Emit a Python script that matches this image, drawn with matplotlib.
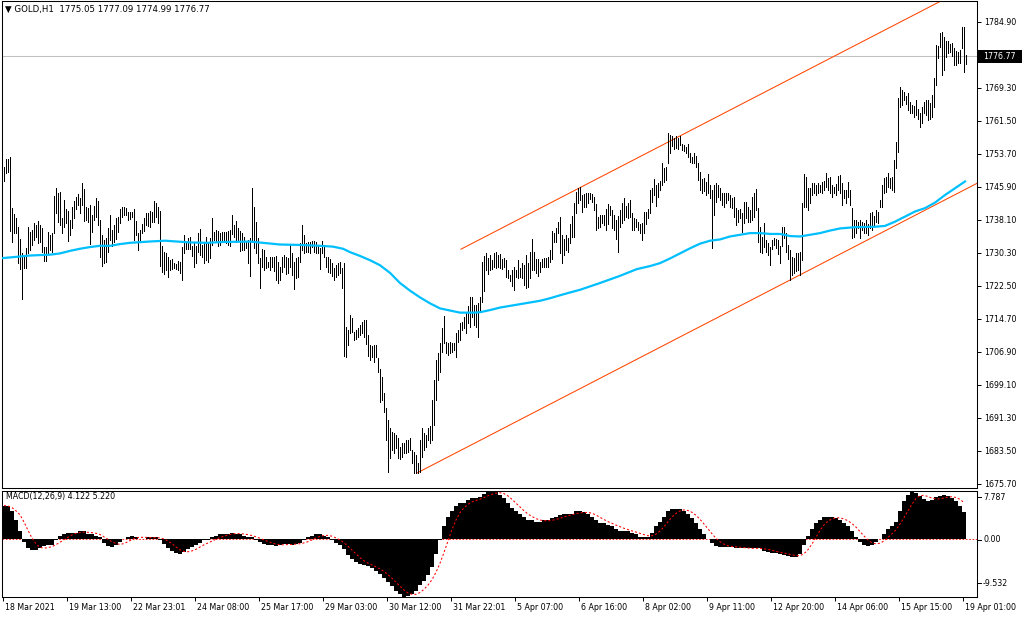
import numpy as np
import matplotlib
matplotlib.use("Agg")
import matplotlib.pyplot as plt
from matplotlib.patches import Rectangle
from matplotlib.lines import Line2D

plt.rcParams['font.family'] = ['DejaVu Sans']

# ---------------- data ----------------
symbol = "GOLD,H1"
last_ohlc = [1775.05, 1777.09, 1774.99, 1776.77]
last_price = 1776.77
macd_last = 4.122
signal_last = 5.220

high = [
    # 18 Mar - 19 Mar
    1750.6, 1752.5, 1752.5, 1753.0, 1740.9, 1739.4, 1738.6, 1736.5, 1733.6, 1730.3,
    1729.4, 1731.5, 1736.5, 1735.3, 1735.7, 1737.4, 1736.9, 1737.9, 1736.9, 1736.2,
    1731.7, 1731.7, 1735.3, 1734.6, 1735.0, 1743.8, 1745.7, 1744.5, 1744.7, 1738.6,
    1742.8, 1740.7, 1740.2, 1738.1, 1741.2, 1742.6, 1743.5, 1744.2, 1743.3, 1746.8,
    1745.4, 1741.2, 1740.9, 1741.6, 1739.3, 1741.4, 1743.3, 1742.6, 1738.1, 1734.6,
    1733.4, 1733.9, 1736.2, 1739.3, 1735.7, 1736.9, 1738.6, 1738.8, 1740.7, 1741.2,
    1741.2, 1740.9, 1740.0, 1740.0, 1740.0, 1740.7, 1737.9, 1735.0, 1735.7, 1737.2,
    1738.6, 1739.8, 1739.8, 1740.2,
    # 23 Mar - 26 Mar
    1740.0, 1742.6, 1742.1, 1741.2, 1740.2, 1732.0, 1730.5, 1730.3, 1729.4, 1728.6,
    1728.9, 1727.9, 1727.7, 1728.4, 1728.2, 1731.7, 1734.6, 1732.9, 1733.9, 1734.1,
    1732.0, 1732.6, 1732.0, 1735.0, 1736.0, 1732.2, 1732.9, 1734.1, 1732.9, 1733.9,
    1738.6, 1735.3, 1735.7, 1735.5, 1735.0, 1735.3, 1735.3, 1735.3, 1735.5, 1735.7,
    1739.3, 1736.9, 1737.9, 1736.2, 1735.5, 1735.0, 1734.1, 1732.9, 1733.4, 1733.9,
    1745.7, 1741.2, 1737.6, 1733.9, 1729.1, 1731.2, 1731.0, 1729.4, 1728.2, 1729.4,
    1729.4, 1729.4, 1729.6, 1728.2, 1727.0, 1729.4, 1729.8, 1729.4, 1729.1, 1732.2,
    # 26 Mar - 31 Mar
    1730.3, 1728.2, 1729.1, 1729.4, 1732.6, 1736.9, 1734.6, 1732.6, 1732.9, 1732.9,
    1733.1, 1733.1, 1732.9, 1732.2, 1731.5, 1733.1, 1732.2, 1729.4, 1729.4, 1728.9,
    1727.9, 1726.8, 1727.5, 1727.9, 1728.2, 1726.8, 1727.9, 1712.8, 1712.1, 1715.6,
    1714.9, 1711.6, 1712.1, 1712.6, 1713.3, 1714.0, 1714.5, 1714.5, 1710.9, 1708.6,
    1708.3, 1708.6, 1708.6, 1705.5, 1702.9, 1701.0, 1697.2, 1693.7, 1690.8, 1688.9,
    1688.0, 1687.7, 1687.3, 1686.6, 1684.5, 1685.4, 1685.4, 1686.1, 1686.1, 1686.6,
    1683.7, 1683.3, 1682.5, 1680.7, 1686.1, 1688.9, 1687.7, 1687.3, 1688.9, 1689.4,
    # 31 Mar - 6 Apr
    1695.5, 1700.3, 1705.0, 1706.7, 1709.0, 1712.6, 1715.4, 1709.3, 1709.0, 1709.3,
    1709.0, 1709.0, 1711.4, 1712.1, 1713.8, 1714.0, 1715.2, 1716.1, 1717.8, 1719.9,
    1719.9, 1718.0, 1718.0, 1718.5, 1719.9, 1728.2, 1729.6, 1730.3, 1729.1, 1729.8,
    1728.6, 1730.3, 1730.5, 1729.8, 1730.1, 1728.9, 1729.1, 1728.6, 1726.3, 1725.1,
    1726.3, 1727.0, 1726.3, 1728.6, 1726.8, 1727.9, 1727.5, 1729.8, 1727.9, 1730.5,
    1733.6, 1730.5, 1728.9, 1728.9, 1728.2, 1728.9, 1729.1, 1729.1, 1729.4, 1731.0,
    1735.5, 1735.0, 1736.2, 1737.6, 1738.8, 1734.6, 1733.6, 1734.6, 1733.9, 1737.2,
    # 6 Apr - 9 Apr
    1739.0, 1742.1, 1744.7, 1745.7, 1745.9, 1744.0, 1744.2, 1744.5, 1744.5, 1744.5,
    1744.2, 1743.5, 1741.9, 1738.8, 1739.3, 1739.3, 1739.3, 1740.7, 1741.9, 1741.4,
    1740.5, 1739.3, 1738.1, 1739.0, 1740.5, 1742.1, 1743.3, 1741.4, 1742.1, 1742.8,
    1739.8, 1738.6, 1738.3, 1737.6, 1737.2, 1737.4, 1740.0, 1740.0, 1740.7, 1745.2,
    1745.7, 1747.8, 1746.4, 1746.8, 1747.3, 1751.6, 1750.4, 1750.6, 1758.7, 1758.2,
    1758.0, 1757.5, 1758.0, 1757.5, 1758.0, 1756.1, 1755.8, 1755.4, 1756.1, 1754.0,
    1753.0, 1754.0, 1753.2, 1751.6, 1749.4, 1747.8, 1748.0, 1747.1, 1749.0, 1746.4,
    # 9 Apr - 14 Apr
    1745.2, 1746.4, 1746.8, 1746.4, 1745.7, 1744.5, 1744.5, 1744.5, 1744.5, 1744.0,
    1743.3, 1743.5, 1740.9, 1740.5, 1740.7, 1739.8, 1742.4, 1742.4, 1741.2, 1740.5,
    1743.5, 1744.5, 1745.4, 1740.9, 1736.5, 1734.1, 1737.4, 1733.4, 1732.6, 1731.7,
    1733.4, 1733.9, 1733.6, 1733.4, 1732.0, 1736.5, 1736.5, 1735.0, 1732.2, 1731.0,
    1729.4, 1729.1, 1730.3, 1730.3, 1730.5, 1742.1, 1749.0, 1748.3, 1745.7, 1745.7,
    1746.8, 1746.8, 1746.4, 1746.8, 1746.4, 1747.1, 1747.3, 1749.2, 1748.0, 1748.3,
    1746.4, 1745.9, 1746.6, 1748.5, 1748.7,
    # 14 Apr - 19 Apr
    1746.8, 1745.2, 1745.2, 1747.1, 1745.2, 1740.9, 1738.1, 1738.1, 1737.6, 1738.1,
    1737.6, 1737.4, 1738.1, 1737.2, 1739.8, 1740.0, 1739.0, 1740.5, 1740.0, 1742.8,
    1746.4, 1748.0, 1748.3, 1749.2, 1748.0, 1748.3, 1752.3, 1756.5, 1767.0, 1769.5,
    1768.8, 1768.4, 1767.4, 1768.1, 1766.0, 1765.3, 1765.0, 1766.5, 1764.3, 1763.4,
    1764.8, 1766.0, 1766.5, 1766.5, 1765.8, 1767.6, 1771.7, 1779.5, 1779.2, 1782.3,
    1782.5, 1781.4, 1780.4, 1780.4, 1779.7, 1780.0, 1778.8, 1778.0, 1777.8, 1778.3,
    1783.7, 1783.7, 1777.09,
]

low = [
    1747.3, 1749.2, 1749.4, 1735.5, 1732.9, 1735.0, 1735.0, 1727.9, 1726.5, 1719.4,
    1726.8, 1726.8, 1730.3, 1731.0, 1732.2, 1733.4, 1734.1, 1732.6, 1732.9, 1730.5,
    1728.4, 1728.4, 1730.3, 1731.0, 1730.5, 1735.0, 1739.8, 1737.6, 1736.9, 1735.0,
    1736.5, 1737.4, 1733.1, 1734.6, 1736.2, 1738.6, 1740.7, 1741.6, 1739.8, 1741.6,
    1737.9, 1738.1, 1737.6, 1732.4, 1735.3, 1738.1, 1738.8, 1736.9, 1729.4, 1727.2,
    1727.9, 1728.2, 1730.5, 1733.4, 1732.0, 1732.9, 1733.6, 1735.3, 1737.4, 1738.8,
    1739.3, 1739.3, 1738.1, 1738.3, 1738.8, 1733.4, 1734.6, 1731.0, 1733.4, 1735.0,
    1735.5, 1736.9, 1736.7, 1736.5,
    1737.6, 1737.6, 1738.8, 1737.4, 1727.2, 1725.8, 1725.3, 1726.3, 1724.6, 1726.3,
    1726.5, 1726.8, 1726.5, 1726.3, 1725.6, 1723.9, 1730.3, 1731.2, 1731.2, 1731.2,
    1729.6, 1727.0, 1727.9, 1730.5, 1729.8, 1729.4, 1727.9, 1728.6, 1728.2, 1729.1,
    1732.2, 1733.4, 1732.9, 1732.0, 1732.2, 1733.4, 1733.1, 1732.6, 1732.2, 1732.0,
    1734.8, 1734.1, 1732.9, 1733.4, 1730.8, 1731.0, 1731.0, 1731.5, 1727.9, 1724.9,
    1732.9, 1731.5, 1730.3, 1727.9, 1722.0, 1727.0, 1726.3, 1726.8, 1727.0, 1726.3,
    1727.0, 1726.0, 1723.9, 1723.2, 1723.9, 1725.8, 1727.0, 1725.3, 1725.6, 1727.0,
    1725.1, 1721.8, 1724.4, 1724.6, 1728.2, 1731.0, 1730.3, 1730.5, 1730.5, 1730.3,
    1731.7, 1730.5, 1730.3, 1730.3, 1726.5, 1730.3, 1729.4, 1727.0, 1725.8, 1725.6,
    1724.9, 1723.9, 1724.6, 1725.1, 1725.6, 1722.0, 1705.9, 1705.7, 1708.6, 1711.4,
    1711.6, 1709.7, 1710.0, 1710.4, 1710.9, 1711.4, 1710.4, 1708.8, 1705.9, 1705.0,
    1705.7, 1704.5, 1705.7, 1702.2, 1695.1, 1695.5, 1692.7, 1686.1, 1678.5, 1681.8,
    1683.7, 1683.0, 1684.2, 1681.8, 1681.6, 1682.1, 1683.0, 1683.0, 1683.3, 1683.7,
    1680.7, 1678.3, 1678.3, 1678.3, 1678.5, 1682.1, 1683.7, 1684.5, 1686.1, 1685.4,
    1686.1, 1689.6, 1695.5, 1700.3, 1702.2, 1706.9, 1709.0, 1706.7, 1706.2, 1706.7,
    1706.9, 1707.4, 1705.7, 1709.3, 1709.7, 1712.1, 1712.6, 1711.4, 1713.8, 1712.8,
    1715.2, 1713.3, 1712.8, 1710.4, 1716.4, 1718.7, 1721.3, 1726.3, 1725.3, 1726.3,
    1726.5, 1727.0, 1726.8, 1727.0, 1726.8, 1726.5, 1727.0, 1724.6, 1724.4, 1723.7,
    1722.5, 1721.6, 1724.6, 1724.4, 1724.6, 1724.4, 1722.7, 1722.0, 1722.3, 1724.4,
    1726.3, 1726.3, 1725.6, 1724.9, 1725.8, 1727.0, 1727.0, 1727.0, 1727.0, 1728.2,
    1728.9, 1732.9, 1732.9, 1735.0, 1730.3, 1727.9, 1729.8, 1731.0, 1730.5, 1732.6,
    1734.1, 1734.1, 1739.8, 1742.1, 1742.8, 1740.0, 1741.2, 1741.2, 1742.1, 1743.1,
    1742.4, 1740.5, 1735.7, 1736.2, 1736.5, 1737.4, 1736.9, 1735.7, 1737.2, 1739.3,
    1736.2, 1735.7, 1733.6, 1730.5, 1736.5, 1737.4, 1738.1, 1738.8, 1738.6, 1738.8,
    1735.7, 1735.7, 1736.5, 1735.7, 1735.0, 1733.4, 1735.0, 1737.2, 1738.6, 1739.8,
    1742.4, 1744.0, 1741.4, 1743.5, 1745.2, 1746.4, 1747.1, 1747.6, 1751.6, 1754.0,
    1755.6, 1754.9, 1755.1, 1754.9, 1755.8, 1754.7, 1754.4, 1754.0, 1753.0, 1751.8,
    1751.6, 1751.6, 1750.6, 1747.6, 1745.2, 1744.5, 1744.9, 1744.0, 1744.5, 1743.3,
    1731.5, 1739.3, 1742.4, 1743.5, 1742.8, 1741.6, 1741.2, 1742.1, 1742.8, 1741.2,
    1740.9, 1738.8, 1736.9, 1737.6, 1738.6, 1735.3, 1737.4, 1738.6, 1737.6, 1737.6,
    1738.1, 1738.8, 1740.5, 1732.9, 1730.5, 1730.3, 1731.7, 1730.5, 1729.8, 1727.5,
    1731.2, 1732.2, 1731.5, 1730.1, 1727.9, 1732.0, 1733.9, 1730.5, 1728.9, 1723.9,
    1725.1, 1725.6, 1726.0, 1726.3, 1725.1, 1728.6, 1741.2, 1741.2, 1740.5, 1742.1,
    1744.0, 1744.5, 1744.0, 1744.5, 1744.7, 1744.5, 1745.2, 1745.9, 1745.2, 1744.5,
    1743.5, 1744.5, 1744.0, 1745.2, 1744.5,
    1741.6, 1743.3, 1742.1, 1743.5, 1741.6, 1733.9, 1734.1, 1735.0, 1736.2, 1733.9,
    1735.7, 1735.0, 1735.0, 1734.6, 1736.2, 1735.7, 1736.7, 1737.6, 1737.4, 1741.2,
    1741.2, 1744.5, 1744.7, 1745.9, 1745.7, 1745.2, 1744.7, 1750.4, 1754.2, 1764.8,
    1765.3, 1766.5, 1765.5, 1764.1, 1763.4, 1763.4, 1762.5, 1762.9, 1762.0, 1760.1,
    1761.0, 1763.4, 1762.9, 1761.7, 1762.0, 1762.5, 1764.8, 1770.0, 1776.4, 1779.0,
    1772.4, 1773.6, 1776.6, 1777.6, 1777.8, 1776.9, 1774.7, 1774.7, 1775.2, 1775.2,
    1778.8, 1773.1, 1774.99,
]

# moving average (blue line), read at these bar positions
ma_bar = [0, 7, 13.5, 23.5, 28.5, 33.5, 38.5, 43.5, 48.5, 53.5, 58.5, 63.5, 73, 81,
          93.5, 102, 110, 123.5, 130, 138.5, 148.5, 158.5, 165, 170, 173.5, 178.5,
          183.5, 188.5, 193.5, 198.5, 203.5, 208.5, 213.5, 218.5, 223.5, 228.5, 236,
          238.5, 243.5, 248.5, 253.5, 258.5, 263.5, 268.5, 273.5, 278.5, 283, 288.5,
          298.5, 308.5, 317, 323.5, 328.5, 333.5, 338.5, 343.5, 348.5, 353.5, 358.5,
          363.5, 368.5, 373.5, 378.5, 383.5, 388.5, 393.5, 398.5, 403.5, 408.5, 413.5,
          418.5, 426, 436, 441, 446, 451, 456, 461, 466, 471, 476, 481]
ma_value = [1729.1, 1729.4, 1729.7, 1729.9, 1730.2, 1730.8, 1731.3, 1731.7, 1732.0,
            1732.0, 1732.4, 1732.7, 1733.0, 1733.2, 1732.8, 1732.7, 1732.9, 1733.0,
            1732.7, 1732.3, 1732.2, 1732.0, 1731.8, 1731.3, 1730.5, 1729.6, 1728.6,
            1727.4, 1725.6, 1723.2, 1721.4, 1719.8, 1718.4, 1717.2, 1716.7, 1716.2,
            1716.2, 1716.3, 1716.8, 1717.4, 1717.8, 1718.2, 1718.6, 1719.0, 1719.6,
            1720.3, 1720.9, 1721.6, 1723.2, 1724.9, 1726.5, 1727.2, 1727.9, 1729.0,
            1730.2, 1731.4, 1732.5, 1733.2, 1733.5, 1734.2, 1734.6, 1735.0, 1735.0,
            1734.8, 1734.8, 1734.3, 1734.2, 1734.6, 1735.0, 1735.6, 1736.1, 1736.4,
            1736.5, 1736.7, 1737.7, 1738.9, 1740.1, 1740.9, 1742.2, 1744.0, 1745.6,
            1747.2]

# price channel (two anchor points each)
upper_channel_bar = [229, 490]
upper_channel_price = [1731.2, 1795.0]
lower_channel_bar = [207, 490]
lower_channel_price = [1678.3, 1747.5]

# MACD(12,26,9) main values, read every second bar
macd_step = 2
macd = [
    5.4, 5.3, 4.5, 3.0, 1.3, -0.5, -1.5, -1.8, -1.8, -1.5,
    -1.2, -1.0, -1.0, -0.2, 0.5, 0.8, 1.0, 1.0, 1.0, 1.2,
    1.2, 0.8, 0.7, 0.5, 0.2, -0.7, -1.2, -1.3, -1.0, -0.5,
    0.0, 0.3, 0.5, 0.3, 0.0, 0.0, 0.2, 0.3, 0.3, -0.2,
    -0.8, -1.5, -2.0, -2.3, -2.5, -2.2, -1.7, -1.3, -1.0, -0.7,
    -0.3, -0.2, 0.2, 0.5, 0.7, 0.8, 0.8, 1.0, 0.8, 0.7,
    0.5, 0.3, 0.2, -0.2, -0.5, -0.8, -1.0, -1.0, -1.2, -1.0,
    -0.8, -0.8, -1.0, -0.8, -0.7, -0.2, 0.2, 0.5, 0.7, 0.7,
    0.5, 0.3, -0.2, -0.7, -1.0, -1.7, -2.6, -3.3, -3.8, -4.1,
    -4.3, -4.5, -4.8, -5.3, -5.8, -6.4, -7.1, -7.8, -8.5, -9.1,
    -9.5, -9.4, -9.0, -8.5, -7.6, -6.9, -5.9, -4.6, -2.5, -0.2,
    2.0, 3.5, 4.6, 5.4, 5.8, 5.9, 6.3, 6.6, 6.6, 6.8,
    7.3, 7.7, 7.8, 7.6, 7.1, 6.6, 5.8, 5.0, 4.5, 4.0,
    3.5, 3.1, 3.0, 2.8, 2.8, 3.0, 3.0, 3.3, 3.6, 3.8,
    4.0, 4.0, 4.1, 4.5, 4.5, 4.3, 4.0, 3.5, 3.0, 2.6,
    2.5, 2.3, 2.1, 1.6, 1.3, 1.2, 1.2, 1.0, 0.7, 0.2,
    0.2, 0.3, 1.0, 2.0, 2.8, 3.6, 4.5, 4.8, 4.9, 4.8,
    4.5, 4.0, 3.3, 2.5, 1.5, 0.7, 0.0, -0.7, -1.2, -1.3,
    -1.3, -1.3, -1.3, -1.5, -1.6, -1.6, -1.6, -1.6, -1.5, -1.6,
    -2.0, -2.1, -2.3, -2.3, -2.5, -2.6, -2.8, -3.0, -3.0, -2.5,
    -1.0, 0.5, 1.6, 2.5, 3.1, 3.5, 3.6, 3.5, 3.3, 3.1,
    2.6, 2.1, 1.3, 0.3, -0.5, -1.0, -1.2, -1.0, -0.5, 0.0,
    0.8, 1.6, 2.1, 2.8, 4.6, 6.1, 7.1, 7.6, 7.4, 6.9,
    6.4, 6.1, 6.3, 6.8, 6.9, 7.1, 6.9, 6.6, 6.1, 5.4,
    4.4,
]
macd_max = 7.787
macd_min = -9.532

price_ticks = [1784.90, 1777.10, 1769.30, 1761.50, 1753.70, 1745.90, 1738.10,
               1730.30, 1722.50, 1714.70, 1706.90, 1699.10, 1691.30, 1683.50, 1675.70]

date_labels = ["18 Mar 2021", "19 Mar 13:00", "22 Mar 23:01", "24 Mar 08:00",
               "25 Mar 17:00", "29 Mar 03:00", "30 Mar 12:00", "31 Mar 22:01",
               "5 Apr 07:00", "6 Apr 16:00", "8 Apr 02:00", "9 Apr 11:00",
               "12 Apr 20:00", "14 Apr 06:00", "15 Apr 15:00", "19 Apr 01:00"]
date_label_step = 32

# ---------------- layout ----------------
W, H = 1024, 620
fig = plt.figure(figsize=(W / 100, H / 100), dpi=100)
fig.patch.set_facecolor("white")


def fx(px):
    return px / W


def fy(py):
    return 1 - py / H


FS = 5.7
ax = fig.add_axes([fx(2), fy(488), (977 - 2) / W, (488 - 1) / H])
ax2 = fig.add_axes([fx(2), fy(597), (977 - 2) / W, (597 - 491) / H])

n = len(high)
idx = np.arange(n)
x_left, x_right = -0.5, 487.0

# ---------------- main chart ----------------
ax.set_xlim(x_left, x_right)
ax.set_ylim(1674.75, 1789.86)
ax.axhline(last_price, color="#C0C0C0", lw=0.75, zorder=1)
# bars drawn as crisp 1-pixel high-low lines (offset to the pixel centre)
ax.vlines(idx + 0.25, low, high, colors="black", linewidth=0.5, antialiased=False, zorder=3)
ax.plot(ma_bar, ma_value, color="#00BFFF", lw=1.6, zorder=4, solid_joinstyle="round")
ax.plot(upper_channel_bar, upper_channel_price, color="#FF4500", lw=0.75, zorder=2)
ax.plot(lower_channel_bar, lower_channel_price, color="#FF4500", lw=0.75, zorder=2)

ax.set_xticks([])
ax.yaxis.tick_right()
ax.set_yticks(price_ticks)
ax.set_yticklabels([f"{v:.2f}" for v in price_ticks], fontsize=FS)
ax.tick_params(axis="y", length=3, width=0.7, pad=2, direction="out", colors="black")
for s in ax.spines.values():
    s.set_color("black")
    s.set_linewidth(0.75)

# current price label box
fig.patches.append(Rectangle((fx(978), fy(63)), 44 / W, 13 / H, transform=fig.transFigure,
                             facecolor="black", edgecolor="none", zorder=10))
fig.text(fx(983), fy(56.5), f"{last_price:.2f}", color="white", fontsize=FS,
         ha="left", va="center", zorder=11)

# header
header = "\u25BC " + symbol + "  " + " ".join(f"{v:.2f}" for v in last_ohlc)
fig.text(fx(5), fy(9), header, fontsize=6.2, ha="left", va="center")

# ---------------- MACD ----------------
macd_arr = np.array(macd)
macd_pos = np.arange(len(macd_arr)) * macd_step
ax2.set_xlim(x_left, x_right)
ax2.set_ylim(macd_min, macd_max)
ax2.bar(macd_pos - 0.5, macd_arr, width=macd_step, align="edge", color="black",
        linewidth=0, zorder=2)
# signal line: 9-bar simple average of the MACD (read every 2 bars -> window of 5)
win = 5
signal = np.array([macd_arr[max(0, i - win + 1):i + 1].mean() for i in range(len(macd_arr))])
ax2.plot(macd_pos + 0.5, signal, color="red", lw=0.75, ls=(0, (2, 2)), zorder=3)
ax2.axhline(0, color="red", lw=0.6, ls=(0, (2, 2)), zorder=1)

ax2.set_yticks([])
label_idx = np.arange(len(date_labels)) * date_label_step
ax2.set_xticks(label_idx)
ax2.set_xticklabels([""] * len(label_idx))
ax2.tick_params(axis="x", length=3, width=0.7, direction="out", colors="black")
for s in ax2.spines.values():
    s.set_color("black")
    s.set_linewidth(0.75)

fig.text(fx(6), fy(497), f"MACD(12,26,9) {macd_last:.3f} {signal_last:.3f}",
         fontsize=FS, ha="left", va="center")

for yy, txt in [(497, f"{macd_max:.3f}"), (540, "0.00"), (583, f"{macd_min:.3f}")]:
    fig.text(fx(983), fy(yy), txt, fontsize=FS, ha="left", va="center")
    fig.add_artist(Line2D([fx(977), fx(981)], [fy(yy), fy(yy)], color="black",
                          lw=0.7, transform=fig.transFigure))

for i, lab in zip(label_idx, date_labels):
    px = 3 + 2 * i
    fig.text(fx(px + 2), fy(607), lab, fontsize=FS, ha="left", va="center")

fig.savefig("out.png", dpi=100, facecolor="white")
